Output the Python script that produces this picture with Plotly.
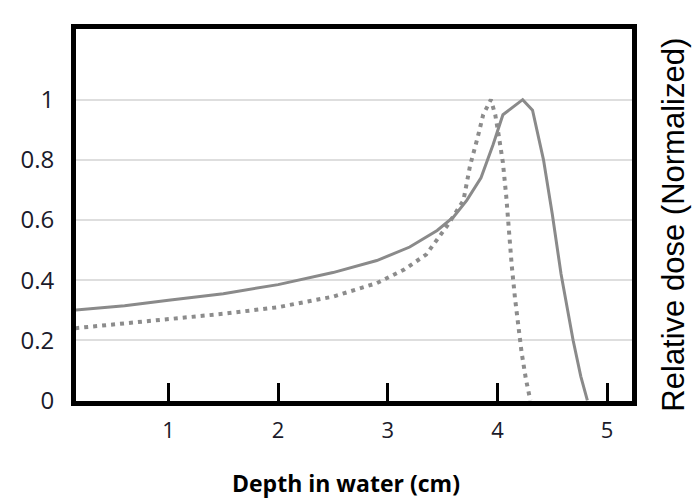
import plotly.graph_objects as go

# Depth in water (cm) and relative dose for the two curves
solid_depth = [0.15, 0.6, 1.0, 1.5, 2.0, 2.5, 2.9, 3.2, 3.45, 3.6, 3.72, 3.85, 3.96, 4.05,
               4.23, 4.32, 4.42, 4.5, 4.58, 4.69, 4.76, 4.82]
solid_dose = [0.30, 0.315, 0.333, 0.355, 0.385, 0.425, 0.465, 0.51, 0.565, 0.61, 0.665, 0.74,
              0.85, 0.95, 1.0, 0.965, 0.80, 0.62, 0.42, 0.20, 0.08, 0.0]

dotted_depth = [0.15, 0.6, 1.0, 1.5, 2.0, 2.5, 2.9, 3.15, 3.35, 3.55, 3.69, 3.75, 3.82, 3.87,
                3.94, 3.98, 4.01, 4.05, 4.08, 4.1, 4.13, 4.16, 4.19, 4.22, 4.26, 4.3]
dotted_dose = [0.24, 0.255, 0.27, 0.288, 0.31, 0.345, 0.39, 0.435, 0.485, 0.585, 0.665, 0.78,
               0.875, 0.95, 1.0, 0.95, 0.885, 0.79, 0.68, 0.58, 0.45, 0.34, 0.25, 0.16, 0.07,
               0.0]

x_ticks = [1, 2, 3, 4, 5]
x_ticklabels = ["1", "2", "3", "4", "5"]
y_ticks = [0, 0.2, 0.4, 0.6, 0.8, 1]
y_ticklabels = ["0", "0.2", "0.4", "0.6", "0.8", "1"]

x_title = "Depth in water (cm)"
y_title = "Relative dose (Normalized)"

fig = go.Figure()
fig.add_trace(go.Scatter(x=dotted_depth, y=dotted_dose, mode="lines",
                         line=dict(color="#8c8c8c", width=4, dash="4px,5px"),
                         showlegend=False, hoverinfo="skip"))
fig.add_trace(go.Scatter(x=solid_depth, y=solid_dose, mode="lines",
                         line=dict(color="#8a8a8a", width=3),
                         showlegend=False, hoverinfo="skip"))

fig.update_layout(
    width=692, height=495,
    margin=dict(l=66, r=68, t=21, b=102),
    paper_bgcolor="white", plot_bgcolor="white",
    font=dict(family="Open Sans", color="#1a1a1a"),
    xaxis=dict(range=[0.157, 5.227], tickvals=x_ticks, ticktext=x_ticklabels,
               showgrid=False, zeroline=False,
               showline=True, linecolor="black", linewidth=5, mirror=True,
               ticks="inside", ticklen=18, tickwidth=3, tickcolor="black",
               tickfont=dict(size=22, family="Open Sans", color="#1a1a2a"),
               ticklabelstandoff=6),
    yaxis=dict(range=[-0.002, 1.235], tickvals=y_ticks, ticktext=y_ticklabels,
               showgrid=True, gridcolor="#dedede", gridwidth=2, zeroline=False,
               showline=True, linecolor="black", linewidth=5, mirror=True,
               ticks="", tickfont=dict(size=24, family="Open Sans", color="#1a1a2a"),
               ticklabelstandoff=12),
    annotations=[
        dict(text=x_title, xref="paper", yref="paper", x=0.486, y=-0.220,
             xanchor="center", yanchor="middle", showarrow=False,
             font=dict(size=23, family="Open Sans", color="black", weight="bold")),
        dict(text=y_title, xref="paper", yref="paper", x=1.073, y=0.473,
             xanchor="center", yanchor="middle", showarrow=False, textangle=-90,
             font=dict(size=31, family="Liberation Sans", color="black")),
    ],
)

fig.write_html("out.html")
